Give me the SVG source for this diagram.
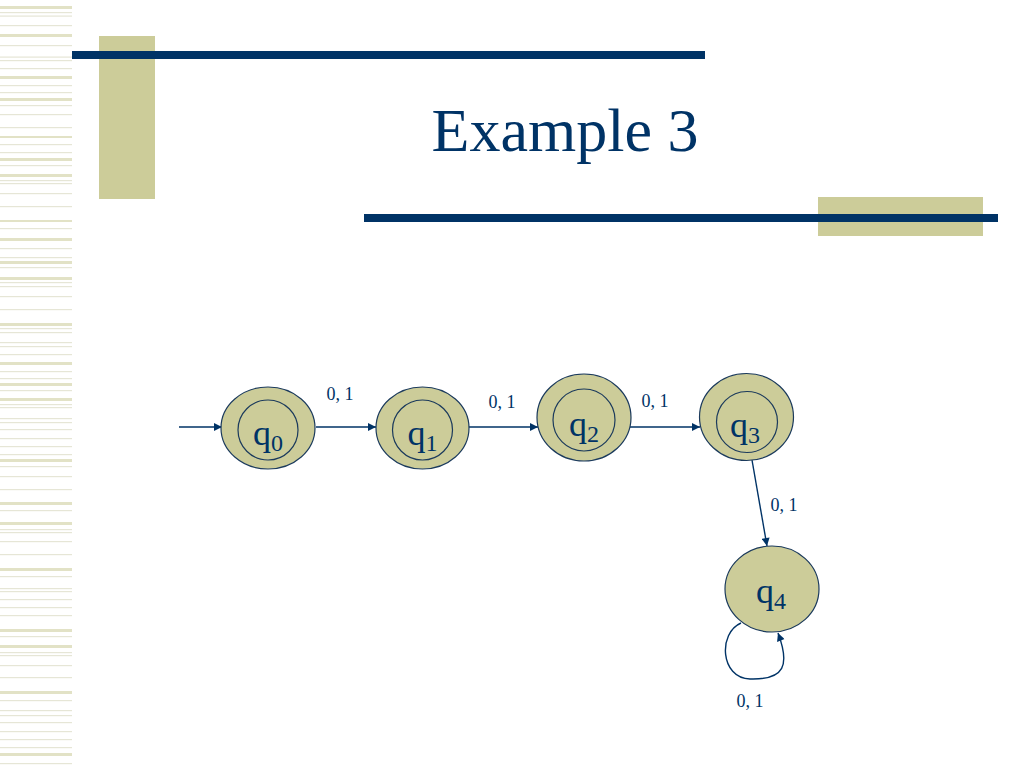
<svg xmlns="http://www.w3.org/2000/svg" width="1024" height="768" viewBox="0 0 1024 768">
<defs>
<style>
.st{fill:#e2e2c6}
.sn{fill:#e6e6d6}
.bar{fill:#003366}
.tan{fill:#cccc99}
.node{fill:#cccc99;stroke:#1b3a5c;stroke-width:1.2}
.inner{fill:none;stroke:#1b3a5c;stroke-width:1.2}
.edge{fill:none;stroke:#003366;stroke-width:1.4}
.lbl{font-family:"Liberation Serif","Times New Roman",serif;font-size:18px;fill:#003366}
.st-name{font-family:"Liberation Serif","Times New Roman",serif;font-size:36px;fill:#003366}
.title{font-family:"Liberation Serif","Times New Roman",serif;font-size:62px;fill:#003366}
</style>
<marker id="arr" viewBox="0 0 10 10" refX="10" refY="5" markerWidth="9" markerHeight="8" markerUnits="userSpaceOnUse" orient="auto">
<path d="M0,0 L10,5 L0,10 z" fill="#003366"/>
</marker>
</defs>
<rect width="1024" height="768" fill="#ffffff"/>
<g id="stripes">
<rect class="st" x="0" y="6" width="72" height="3"/>
<rect class="st" x="0" y="34" width="72" height="3"/>
<rect class="st" x="0" y="76" width="72" height="3"/>
<rect class="st" x="0" y="98" width="72" height="3"/>
<rect class="st" x="0" y="136" width="72" height="2"/>
<rect class="st" x="0" y="158" width="72" height="3"/>
<rect class="st" x="0" y="174" width="72" height="3"/>
<rect class="st" x="0" y="220" width="72" height="2"/>
<rect class="st" x="0" y="238" width="72" height="3"/>
<rect class="st" x="0" y="261" width="72" height="3"/>
<rect class="st" x="0" y="277" width="72" height="3"/>
<rect class="st" x="0" y="323" width="72" height="3"/>
<rect class="st" x="0" y="362" width="72" height="3"/>
<rect class="st" x="0" y="383" width="72" height="3"/>
<rect class="st" x="0" y="398" width="72" height="3"/>
<rect class="st" x="0" y="459" width="72" height="3"/>
<rect class="st" x="0" y="502" width="72" height="3"/>
<rect class="st" x="0" y="522" width="72" height="3"/>
<rect class="st" x="0" y="568" width="72" height="3"/>
<rect class="st" x="0" y="629" width="72" height="3"/>
<rect class="st" x="0" y="645" width="72" height="3"/>
<rect class="st" x="0" y="691" width="72" height="3"/>
<rect class="st" x="0" y="753" width="72" height="3"/>
<rect class="sn" x="0" y="12" width="72" height="1.2"/>
<rect class="sn" x="0" y="15.5" width="72" height="1.2"/>
<rect class="sn" x="0" y="25" width="72" height="1.2"/>
<rect class="sn" x="0" y="45" width="72" height="1.2"/>
<rect class="sn" x="0" y="56.5" width="72" height="1.2"/>
<rect class="sn" x="0" y="60" width="72" height="1.2"/>
<rect class="sn" x="0" y="68" width="72" height="1.2"/>
<rect class="sn" x="0" y="85" width="72" height="1.2"/>
<rect class="sn" x="0" y="92" width="72" height="1.2"/>
<rect class="sn" x="0" y="105" width="72" height="1.2"/>
<rect class="sn" x="0" y="114" width="72" height="1.2"/>
<rect class="sn" x="0" y="127" width="72" height="1.2"/>
<rect class="sn" x="0" y="144" width="72" height="1.2"/>
<rect class="sn" x="0" y="152" width="72" height="1.2"/>
<rect class="sn" x="0" y="165" width="72" height="1.2"/>
<rect class="sn" x="0" y="180" width="72" height="1.2"/>
<rect class="sn" x="0" y="183" width="72" height="1.2"/>
<rect class="sn" x="0" y="193" width="72" height="1.2"/>
<rect class="sn" x="0" y="206" width="72" height="1.2"/>
<rect class="sn" x="0" y="228" width="72" height="1.2"/>
<rect class="sn" x="0" y="248" width="72" height="1.2"/>
<rect class="sn" x="0" y="257" width="72" height="1.2"/>
<rect class="sn" x="0" y="267" width="72" height="1.2"/>
<rect class="sn" x="0" y="282" width="72" height="1.2"/>
<rect class="sn" x="0" y="286" width="72" height="1.2"/>
<rect class="sn" x="0" y="296" width="72" height="1.2"/>
<rect class="sn" x="0" y="309" width="72" height="1.2"/>
<rect class="sn" x="0" y="328" width="72" height="1.2"/>
<rect class="sn" x="0" y="332" width="72" height="1.2"/>
<rect class="sn" x="0" y="342" width="72" height="1.2"/>
<rect class="sn" x="0" y="346" width="72" height="1.2"/>
<rect class="sn" x="0" y="354" width="72" height="1.2"/>
<rect class="sn" x="0" y="371" width="72" height="1.2"/>
<rect class="sn" x="0" y="378" width="72" height="1.2"/>
<rect class="sn" x="0" y="390" width="72" height="1.2"/>
<rect class="sn" x="0" y="404" width="72" height="1.2"/>
<rect class="sn" x="0" y="407" width="72" height="1.2"/>
<rect class="sn" x="0" y="418" width="72" height="1.2"/>
<rect class="sn" x="0" y="422" width="72" height="1.2"/>
<rect class="sn" x="0" y="429" width="72" height="1.2"/>
<rect class="sn" x="0" y="438" width="72" height="1.2"/>
<rect class="sn" x="0" y="446" width="72" height="1.2"/>
<rect class="sn" x="0" y="454" width="72" height="1.2"/>
<rect class="sn" x="0" y="466" width="72" height="1.2"/>
<rect class="sn" x="0" y="476" width="72" height="1.2"/>
<rect class="sn" x="0" y="489" width="72" height="1.2"/>
<rect class="sn" x="0" y="510" width="72" height="1.2"/>
<rect class="sn" x="0" y="529" width="72" height="1.2"/>
<rect class="sn" x="0" y="532" width="72" height="1.2"/>
<rect class="sn" x="0" y="541" width="72" height="1.2"/>
<rect class="sn" x="0" y="554" width="72" height="1.2"/>
<rect class="sn" x="0" y="576" width="72" height="1.2"/>
<rect class="sn" x="0" y="588" width="72" height="1.2"/>
<rect class="sn" x="0" y="591" width="72" height="1.2"/>
<rect class="sn" x="0" y="599" width="72" height="1.2"/>
<rect class="sn" x="0" y="607" width="72" height="1.2"/>
<rect class="sn" x="0" y="615" width="72" height="1.2"/>
<rect class="sn" x="0" y="636" width="72" height="1.2"/>
<rect class="sn" x="0" y="652" width="72" height="1.2"/>
<rect class="sn" x="0" y="655" width="72" height="1.2"/>
<rect class="sn" x="0" y="665" width="72" height="1.2"/>
<rect class="sn" x="0" y="677" width="72" height="1.2"/>
<rect class="sn" x="0" y="700" width="72" height="1.2"/>
<rect class="sn" x="0" y="710" width="72" height="1.2"/>
<rect class="sn" x="0" y="715" width="72" height="1.2"/>
<rect class="sn" x="0" y="722" width="72" height="1.2"/>
<rect class="sn" x="0" y="731" width="72" height="1.2"/>
<rect class="sn" x="0" y="739" width="72" height="1.2"/>
<rect class="sn" x="0" y="747" width="72" height="1.2"/>
<rect class="sn" x="0" y="763" width="72" height="1.2"/>
</g>
<g id="decor">
<rect class="tan" x="99" y="36" width="56" height="163"/>
<rect class="bar" x="72" y="51" width="633" height="8"/>
<rect class="tan" x="818" y="197" width="165" height="39"/>
<rect class="bar" x="364" y="214" width="634" height="8"/>
</g>
<text class="title" x="565" y="151" text-anchor="middle">Example 3</text>
<g id="connectors">
<line class="edge" x1="179" y1="427" x2="222" y2="427" marker-end="url(#arr)"/>
<line class="edge" x1="316" y1="427" x2="376" y2="427" marker-end="url(#arr)"/>
<line class="edge" x1="469" y1="427" x2="538" y2="427" marker-end="url(#arr)"/>
<line class="edge" x1="630" y1="427" x2="700" y2="427" marker-end="url(#arr)"/>
<line class="edge" x1="752" y1="460" x2="767" y2="546" marker-end="url(#arr)"/>
<path class="edge" d="M741,623 C718,633 720,678 750,679 C785,680 790,665 778,633" marker-end="url(#arr)"/>
<text class="lbl" x="340" y="400" text-anchor="middle">0, 1</text>
<text class="lbl" x="502" y="408" text-anchor="middle">0, 1</text>
<text class="lbl" x="655" y="407" text-anchor="middle">0, 1</text>
<text class="lbl" x="784" y="511" text-anchor="middle">0, 1</text>
<text class="lbl" x="750" y="707" text-anchor="middle">0, 1</text>
</g>
<g id="q0">
<ellipse class="node" cx="268" cy="428" rx="47" ry="41"/>
<circle class="inner" cx="268" cy="430" r="30"/>
<text class="st-name" x="268" y="445" text-anchor="middle">q<tspan font-size="24" dy="6">0</tspan></text>
</g>
<g id="q1">
<ellipse class="node" cx="422.5" cy="428" rx="46.5" ry="41"/>
<circle class="inner" cx="422.5" cy="430" r="30"/>
<text class="st-name" x="422.5" y="445" text-anchor="middle">q<tspan font-size="24" dy="6">1</tspan></text>
</g>
<g id="q2">
<ellipse class="node" cx="584" cy="417.5" rx="47" ry="43.5"/>
<circle class="inner" cx="584" cy="420" r="31"/>
<text class="st-name" x="584" y="436" text-anchor="middle">q<tspan font-size="24" dy="6">2</tspan></text>
</g>
<g id="q3">
<ellipse class="node" cx="746.5" cy="417" rx="47" ry="43.5"/>
<circle class="inner" cx="747" cy="422" r="30.5"/>
<text class="st-name" x="745" y="437" text-anchor="middle">q<tspan font-size="24" dy="6">3</tspan></text>
</g>
<g id="q4">
<ellipse class="node" cx="772" cy="589" rx="47" ry="43"/>
<text class="st-name" x="771" y="603" text-anchor="middle">q<tspan font-size="24" dy="6">4</tspan></text>
</g>
</svg>
